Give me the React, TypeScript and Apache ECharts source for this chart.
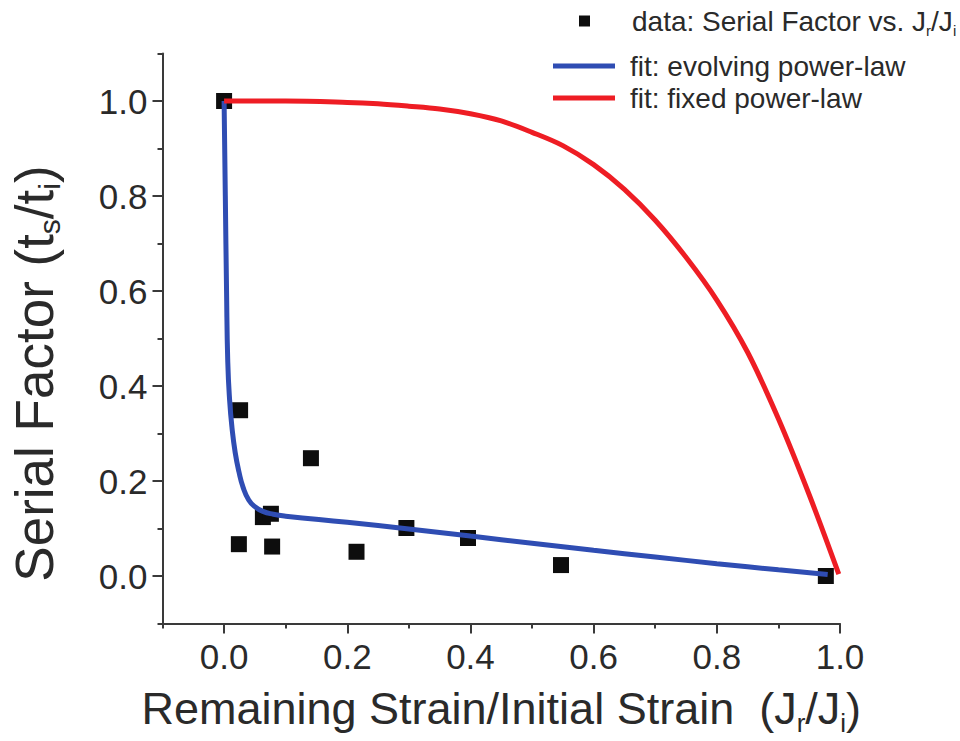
import React, { useEffect, useRef } from 'react';
import * as echarts from 'echarts';

const FONT = '"Liberation Sans", Arial, Helvetica, sans-serif';

// measured data: Serial Factor vs. Jr/Ji
const dataX = [0.0, 0.026, 0.141, 0.024, 0.063, 0.076, 0.078, 0.215, 0.296, 0.396, 0.547, 0.977];
const dataY = [1.0, 0.349, 0.248, 0.067, 0.124, 0.131, 0.062, 0.051, 0.101, 0.08, 0.023, 0.0];

// fit: evolving power-law
const evolvingX = [0.0, 0.002, 0.004, 0.006, 0.009, 0.013, 0.018, 0.024, 0.031, 0.04, 0.05, 0.063, 0.08, 0.1, 0.2, 0.3, 0.4, 0.5, 0.6, 0.7, 0.8, 0.9, 0.98];
const evolvingY = [1.0, 0.8, 0.6, 0.45, 0.37, 0.31, 0.26, 0.22, 0.186, 0.16, 0.146, 0.136, 0.13, 0.126, 0.113, 0.099, 0.084, 0.069, 0.054, 0.04, 0.026, 0.013, 0.003];

// fit: fixed power-law
const fixedX = [0.0, 0.1, 0.2, 0.25, 0.3, 0.35, 0.4, 0.45, 0.5, 0.55, 0.6, 0.65, 0.7, 0.75, 0.8, 0.85, 0.9, 0.95, 0.998];
const fixedY = [1.0, 1.0, 0.997, 0.994, 0.989, 0.983, 0.973, 0.958, 0.934, 0.906, 0.866, 0.814, 0.749, 0.671, 0.581, 0.471, 0.331, 0.171, 0.004];

const xTickValues = [0.0, 0.2, 0.4, 0.6, 0.8, 1.0];
const xTickLabels = ['0.0', '0.2', '0.4', '0.6', '0.8', '1.0'];
const xMinorValues = [-0.1, 0.1, 0.3, 0.5, 0.7, 0.9];
const yTickValues = [0.0, 0.2, 0.4, 0.6, 0.8, 1.0];
const yTickLabels = ['0.0', '0.2', '0.4', '0.6', '0.8', '1.0'];
const yMinorValues = [-0.1, 0.1, 0.3, 0.5, 0.7, 0.9, 1.1];

const SERIES_DATA = 'data';
const SERIES_EVOLVING = 'fit: evolving power-law';
const SERIES_FIXED = 'fit: fixed power-law';

const AXIS_COLOR = '#3a3a3a';
const TEXT_COLOR = '#2a2a2a';
const BLUE = '#2f4db3';
const RED = '#ee1d24';

function pickLabel(values: number[], labels: string[], v: number): string {
  let best = 0;
  for (let i = 1; i < values.length; i++) {
    if (Math.abs(values[i] - v) < Math.abs(values[best] - v)) best = i;
  }
  return labels[best];
}

function zip(xs: number[], ys: number[]) {
  return xs.map((x, i) => [x, ys[i]]);
}

export default function App() {
  const ref = useRef<HTMLDivElement>(null);
  useEffect(() => {
    if (!ref.current) return;
    const chart = echarts.init(ref.current, undefined, { renderer: 'svg' });
    const legendRich = {
      n: { fontSize: 28, lineHeight: 34, fontFamily: FONT, color: TEXT_COLOR },
      s: { fontSize: 15, lineHeight: 15, verticalAlign: 'bottom', fontFamily: FONT, color: TEXT_COLOR },
      g1: { width: 37 },
      g2: { width: 10 },
    };
    const commonLegend = {
      orient: 'horizontal',
      selectedMode: false,
      padding: 0,
      itemGap: 0,
      textStyle: { fontFamily: FONT, color: TEXT_COLOR, rich: legendRich },
    };
    const option: any = {
      animation: false,
      backgroundColor: '#ffffff',
      textStyle: { fontFamily: FONT },
      legend: [
        {
          ...commonLegend,
          left: 579,
          top: 7,
          itemWidth: 11,
          itemHeight: 11,
          data: [{ name: SERIES_DATA, icon: 'rect' }],
          formatter: () => '{g1|}{n|data: Serial Factor vs. J}{s|r}{n|/J}{s|i}',
        },
        {
          ...commonLegend,
          left: 553,
          top: 52,
          itemWidth: 62,
          itemHeight: 5,
          data: [{ name: SERIES_EVOLVING, icon: 'rect' }],
          formatter: (n: string) => '{g2|}{n|' + n + '}',
        },
        {
          ...commonLegend,
          left: 553,
          top: 84,
          itemWidth: 62,
          itemHeight: 5,
          data: [{ name: SERIES_FIXED, icon: 'rect' }],
          formatter: (n: string) => '{g2|}{n|' + n + '}',
        },
      ],
      grid: { left: 159, right: 120, top: 53.5, bottom: 117.5, containLabel: false },
      xAxis: [
        {
          type: 'value',
          position: 'bottom',
          min: -0.1,
          max: 1.0,
          axisLine: { show: true, onZero: false, lineStyle: { color: AXIS_COLOR, width: 2 } },
          axisTick: { show: true, length: 10, customValues: xTickValues, lineStyle: { color: AXIS_COLOR, width: 2 } },
          axisLabel: {
            customValues: xTickValues,
            formatter: (v: number) => pickLabel(xTickValues, xTickLabels, v),
            fontSize: 35,
            color: TEXT_COLOR,
            fontFamily: FONT,
            margin: 15,
          },
          splitLine: { show: false },
          name: '{n|Remaining Strain/Initial Strain  (J}{s|r}{n|/J}{s|i}{n|)}',
          nameLocation: 'middle',
          nameGap: 58,
          nameTextStyle: {
            rich: {
              n: { fontSize: 45, lineHeight: 54, fontFamily: FONT, color: TEXT_COLOR },
              s: { fontSize: 26, lineHeight: 26, verticalAlign: 'bottom', fontFamily: FONT, color: TEXT_COLOR },
            },
          },
        },
        {
          type: 'value',
          position: 'bottom',
          min: -0.1,
          max: 1.0,
          axisLine: { show: false, onZero: false },
          axisTick: { show: true, length: 5, customValues: xMinorValues, lineStyle: { color: AXIS_COLOR, width: 2 } },
          axisLabel: { show: false },
          splitLine: { show: false },
        },
      ],
      yAxis: [
        {
          type: 'value',
          position: 'left',
          min: -0.1,
          max: 1.1,
          axisLine: { show: true, onZero: false, lineStyle: { color: AXIS_COLOR, width: 2 } },
          axisTick: { show: true, length: 10, customValues: yTickValues, lineStyle: { color: AXIS_COLOR, width: 2 } },
          axisLabel: {
            customValues: yTickValues,
            formatter: (v: number) => pickLabel(yTickValues, yTickLabels, v),
            fontSize: 35,
            color: TEXT_COLOR,
            fontFamily: FONT,
            margin: 15,
          },
          splitLine: { show: false },
          name: '{n|Serial Factor (t}{s|s}{n|/t}{s|i}{n|)}{pad|}',
          nameLocation: 'middle',
          nameRotate: 90,
          nameGap: 98,
          nameTextStyle: {
            rich: {
              n: { fontSize: 53, lineHeight: 60, fontFamily: FONT, color: TEXT_COLOR },
              s: { fontSize: 30, lineHeight: 30, verticalAlign: 'bottom', fontFamily: FONT, color: TEXT_COLOR },
              pad: { width: 70 },
            },
          },
        },
        {
          type: 'value',
          position: 'left',
          min: -0.1,
          max: 1.1,
          axisLine: { show: false, onZero: false },
          axisTick: { show: true, length: 5, customValues: yMinorValues, lineStyle: { color: AXIS_COLOR, width: 2 } },
          axisLabel: { show: false },
          splitLine: { show: false },
        },
      ],
      series: [
        {
          name: SERIES_DATA,
          type: 'scatter',
          xAxisIndex: 0,
          yAxisIndex: 0,
          symbol: 'rect',
          symbolSize: 16,
          itemStyle: { color: '#0d0d0d', opacity: 1 },
          data: zip(dataX, dataY),
          z: 2,
        },
        {
          name: SERIES_EVOLVING,
          type: 'line',
          xAxisIndex: 0,
          yAxisIndex: 0,
          showSymbol: false,
          symbol: 'none',
          smooth: 0.5,
          lineStyle: { color: BLUE, width: 5 },
          itemStyle: { color: BLUE },
          data: zip(evolvingX, evolvingY),
          z: 3,
        },
        {
          name: SERIES_FIXED,
          type: 'line',
          xAxisIndex: 0,
          yAxisIndex: 0,
          showSymbol: false,
          symbol: 'none',
          smooth: 0.35,
          lineStyle: { color: RED, width: 5 },
          itemStyle: { color: RED },
          data: zip(fixedX, fixedY),
          z: 4,
        },
      ],
    };
    chart.setOption(option);
    return () => chart.dispose();
  }, []);
  return <div ref={ref} style={{ width: 960, height: 741, position: 'absolute', left: 0, top: 0 }} />;
}
